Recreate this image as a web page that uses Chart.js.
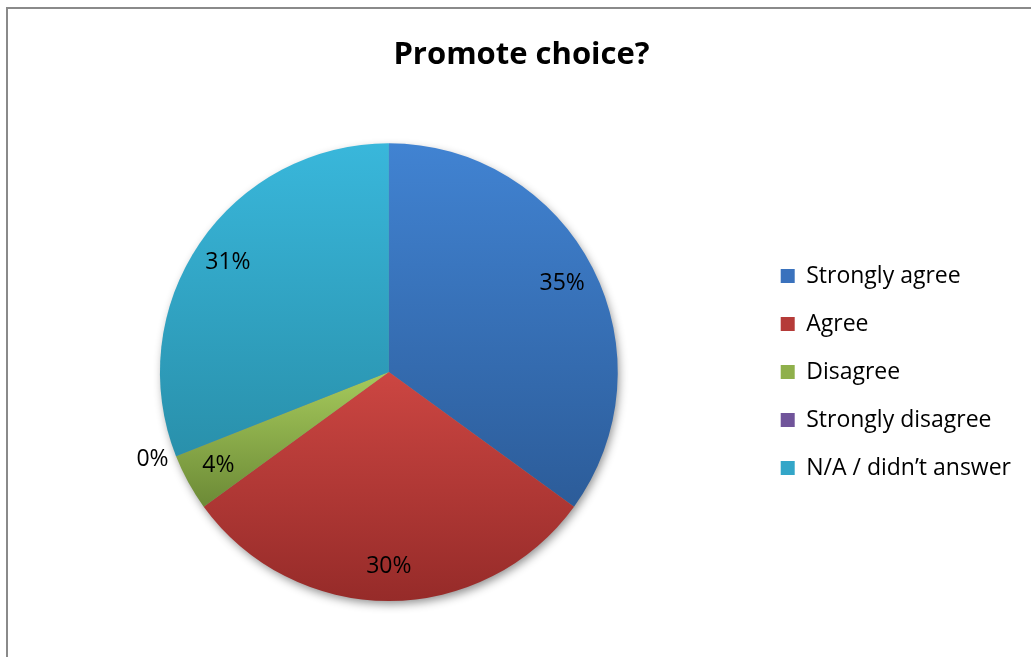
<!DOCTYPE html>
<html>
<head>
<meta charset="utf-8">
<script src="https://cdn.jsdelivr.net/npm/chart.js@4"></script>
<style>
  html, body { margin: 0; padding: 0; background: #fff; }
  #wrap { width: 1031px; height: 657px; }
</style>
</head>
<body>
<div id="wrap"><canvas id="pieChart" width="1031" height="657"></canvas></div>
<script>
// 資料
var labels = ['Strongly agree', 'Agree', 'Disagree', 'Strongly disagree', 'N/A / didn\u2019t answer'];
var values = [35, 30, 4, 0, 31];

// 各扇區顏色（上亮下暗）
var lightColors = ['#4183d2', '#cc4642', '#a6ca5c', '#8566ad', '#39b7db'];
var darkColors  = ['#2c5c99', '#962b29', '#6c8a36', '#5a427a', '#2990ab'];
var flatColors  = ['#3a72bd', '#b53b38', '#8fb04b', '#70549a', '#33a6c8'];

var FONT = '"Open Sans", Lato, sans-serif';

// 依扇區外框建立漸層
function sliceGradient(ctx) {
  var chart = ctx.chart;
  var i = ctx.dataIndex;
  var area = chart.chartArea;
  if (!area || i === undefined) return flatColors[i] || flatColors[0];
  var cx = (area.left + area.right) / 2;
  var cy = (area.top + area.bottom) / 2;
  var r = Math.min(area.right - area.left, area.bottom - area.top) / 2;
  var total = values.reduce(function (a, b) { return a + b; }, 0);
  var before = 0;
  for (var k = 0; k < i; k++) before += values[k];
  var a0 = -Math.PI / 2 + before / total * Math.PI * 2;
  var a1 = a0 + values[i] / total * Math.PI * 2;
  var ys = [cy, cy + r * Math.sin(a0), cy + r * Math.sin(a1)];
  // 扇區若經過正上方或正下方
  [-Math.PI / 2, Math.PI / 2, Math.PI * 1.5].forEach(function (t) {
    if (t >= a0 && t <= a1) ys.push(cy + r * Math.sin(t));
  });
  var top = Math.min.apply(null, ys);
  var bottom = Math.max.apply(null, ys);
  if (bottom - top < 1) bottom = top + 1;
  var g = chart.ctx.createLinearGradient(0, top, 0, bottom);
  g.addColorStop(0, lightColors[i]);
  g.addColorStop(1, darkColors[i]);
  return g;
}

// 外框
var framePlugin = {
  id: 'frame',
  beforeDraw: function (chart) {
    var c = chart.ctx;
    c.save();
    c.strokeStyle = '#8a8a8a';
    c.lineWidth = 2;
    c.beginPath();
    c.moveTo(7, 700);
    c.lineTo(7, 8);
    c.lineTo(1100, 8);
    c.stroke();
    c.restore();
  }
};

// 圓餅陰影
var shadowPlugin = {
  id: 'pieShadow',
  beforeDatasetsDraw: function (chart) {
    var arc = chart.getDatasetMeta(0).data[0];
    if (!arc) return;
    var p = arc.getProps(['x', 'y', 'outerRadius'], true);
    var c = chart.ctx;
    c.save();
    c.shadowColor = 'rgba(0,0,0,0.45)';
    c.shadowBlur = 10;
    c.shadowOffsetX = 2;
    c.shadowOffsetY = 4;
    c.fillStyle = '#888';
    c.beginPath();
    c.arc(p.x, p.y, p.outerRadius - 1, 0, Math.PI * 2);
    c.fill();
    c.restore();
  }
};

// 百分比標籤
var percentPlugin = {
  id: 'percentLabels',
  afterDatasetsDraw: function (chart) {
    var c = chart.ctx;
    var meta = chart.getDatasetMeta(0);
    var total = values.reduce(function (a, b) { return a + b; }, 0);
    c.save();
    c.font = '23px ' + FONT;
    c.fillStyle = '#000';
    c.textBaseline = 'middle';
    meta.data.forEach(function (arc, i) {
      var p = arc.getProps(['x', 'y', 'startAngle', 'endAngle', 'outerRadius'], true);
      var mid = (p.startAngle + p.endAngle) / 2;
      var text = Math.round(values[i] / total * 100) + '%';
      if (values[i] === 0) {
        var d = p.outerRadius + 8;
        c.textAlign = Math.cos(mid) < 0 ? 'right' : 'left';
        c.fillText(text, p.x + Math.cos(mid) * d, p.y + Math.sin(mid) * d);
      } else {
        var d2 = p.outerRadius * 0.85;
        c.textAlign = 'center';
        c.fillText(text, p.x + Math.cos(mid) * d2, p.y + Math.sin(mid) * d2);
      }
    });
    c.restore();
  }
};

var pieChart = new Chart(document.getElementById('pieChart'), {
  type: 'pie',
  data: {
    labels: labels,
    datasets: [{
      data: values,
      backgroundColor: sliceGradient,
      borderWidth: 0,
      hoverOffset: 0
    }]
  },
  plugins: [framePlugin, shadowPlugin, percentPlugin],
  options: {
    responsive: false,
    animation: false,
    layout: { padding: { left: 22, right: 10, top: 0, bottom: 56 } },
    plugins: {
      title: {
        display: true,
        text: 'Promote choice?',
        color: '#000',
        font: { family: FONT, size: 31, weight: 'bold' },
        padding: { top: 37, bottom: 69 }
      },
      legend: {
        position: 'right',
        fullSize: false,
        labels: {
          boxWidth: 14,
          boxHeight: 14,
          padding: 25,
          color: '#000',
          font: { family: FONT, size: 23 },
          generateLabels: function (chart) {
            return labels.map(function (l, i) {
              return {
                text: l,
                fillStyle: flatColors[i],
                strokeStyle: flatColors[i],
                lineWidth: 0,
                hidden: false,
                index: i
              };
            });
          }
        }
      },
      tooltip: { enabled: false }
    }
  }
});
</script>
</body>
</html>
